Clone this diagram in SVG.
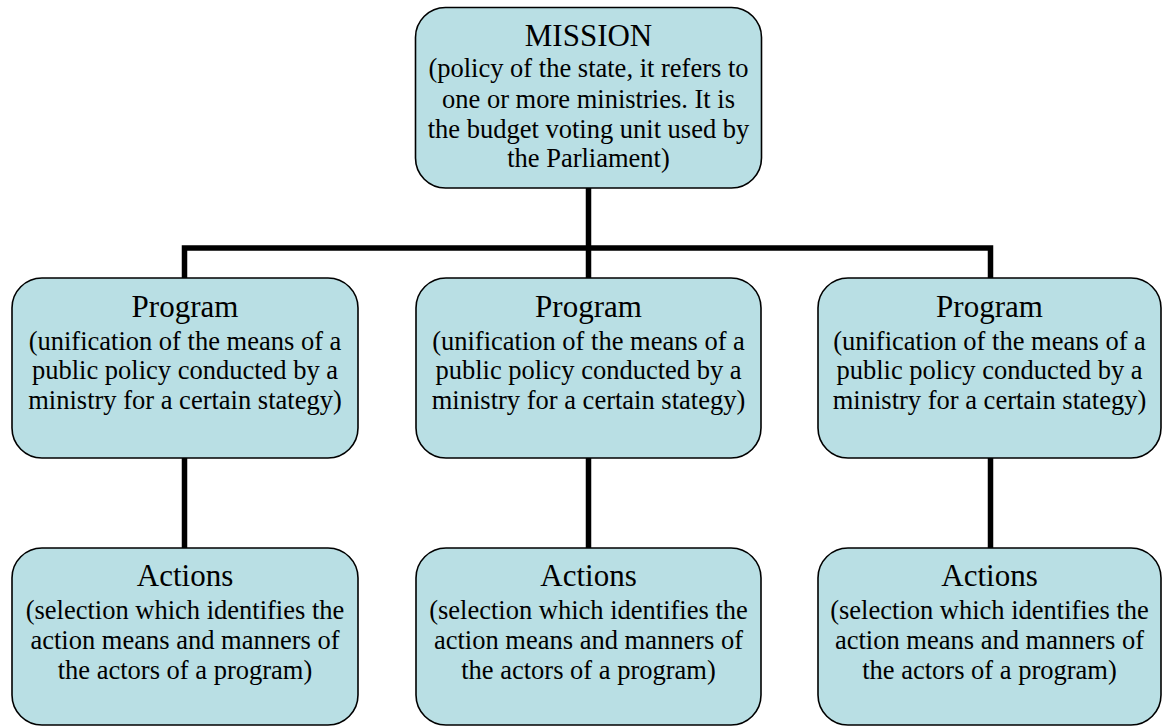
<svg xmlns="http://www.w3.org/2000/svg" width="1162" height="727" viewBox="0 0 1162 727">
<style>
.box{fill:#b9dfe4;stroke:#000;stroke-width:1.6}
.t{font-family:"Liberation Serif","Times New Roman",serif;fill:#000;text-anchor:middle}
.h{font-size:31px}
.b{font-size:26.5px}
.c{fill:none;stroke:#000;stroke-width:5.5;stroke-linecap:butt;stroke-linejoin:miter}
</style>
<rect width="1162" height="727" fill="#fff"/>
<g id="connectors">
<path class="c" d="M588.5 188 V248 M184.5 278 V248 H990.5 V278 M588.5 248 V278"/>
<path class="c" d="M184.5 458 V548 M588.5 458 V548 M990.5 458 V548"/>
</g>
<g id="mission">
<rect class="box" x="415.5" y="7.5" width="346" height="180.5" rx="30"/>
<text class="t h" x="588.5" y="46">MISSION</text>
<text class="t b" x="588.5" y="77">(policy of the state, it refers to</text>
<text class="t b" x="588.5" y="108">one or more ministries. It is</text>
<text class="t b" x="588.5" y="138">the budget voting unit used by</text>
<text class="t b" x="588.5" y="167">the Parliament)</text>
</g>
<g id="program1">
<rect class="box" x="12" y="278" width="346" height="180" rx="30"/>
<text class="t h" x="185" y="317">Program</text>
<text class="t b" x="185" y="350">(unification of the means of a</text>
<text class="t b" x="185" y="379">public policy conducted by a</text>
<text class="t b" x="185" y="409">ministry for a certain stategy)</text>
</g>
<g id="program2">
<rect class="box" x="416" y="278" width="345" height="180" rx="30"/>
<text class="t h" x="588.5" y="317">Program</text>
<text class="t b" x="588.5" y="350">(unification of the means of a</text>
<text class="t b" x="588.5" y="379">public policy conducted by a</text>
<text class="t b" x="588.5" y="409">ministry for a certain stategy)</text>
</g>
<g id="program3">
<rect class="box" x="818" y="278" width="343" height="180" rx="30"/>
<text class="t h" x="989.5" y="317">Program</text>
<text class="t b" x="989.5" y="350">(unification of the means of a</text>
<text class="t b" x="989.5" y="379">public policy conducted by a</text>
<text class="t b" x="989.5" y="409">ministry for a certain stategy)</text>
</g>
<g id="actions1">
<rect class="box" x="12" y="548" width="346" height="177" rx="30"/>
<text class="t h" x="185" y="586">Actions</text>
<text class="t b" x="185" y="619">(selection which identifies the</text>
<text class="t b" x="185" y="649">action means and manners of</text>
<text class="t b" x="185" y="679">the actors of a program)</text>
</g>
<g id="actions2">
<rect class="box" x="416" y="548" width="345" height="177" rx="30"/>
<text class="t h" x="588.5" y="586">Actions</text>
<text class="t b" x="588.5" y="619">(selection which identifies the</text>
<text class="t b" x="588.5" y="649">action means and manners of</text>
<text class="t b" x="588.5" y="679">the actors of a program)</text>
</g>
<g id="actions3">
<rect class="box" x="818" y="548" width="343" height="177" rx="30"/>
<text class="t h" x="989.5" y="586">Actions</text>
<text class="t b" x="989.5" y="619">(selection which identifies the</text>
<text class="t b" x="989.5" y="649">action means and manners of</text>
<text class="t b" x="989.5" y="679">the actors of a program)</text>
</g>
</svg>
